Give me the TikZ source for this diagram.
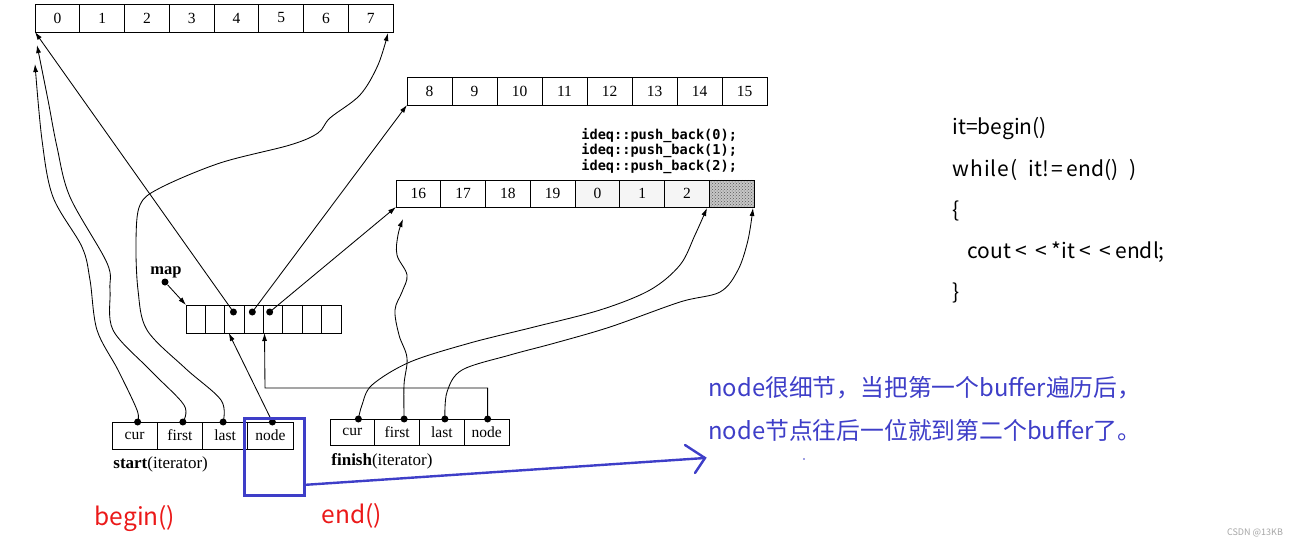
\documentclass[tikz,border=0pt]{standalone}
\usepackage{fontspec}
\setmainfont{Liberation Serif}
\newfontfamily\cjk{Noto Sans CJK SC}
\newfontfamily\monof{DejaVu Sans Mono}
\usetikzlibrary{arrows.meta,patterns}
\definecolor{myblue}{RGB}{62,62,200}
\definecolor{myred}{RGB}{235,25,25}
\newcommand\wlt{\hspace{4.3pt}<\hspace{4.3pt}}
\begin{document}
\begin{tikzpicture}[x=1pt,y=-1pt,line width=0.85pt,
  cellbox/.style={draw,inner sep=0pt,outer sep=0pt,anchor=north west,font=\fontsize{15.5}{15.5}\selectfont},
  ptr/.style={-{Latex[length=8pt,width=5pt]}},
  dotmark/.style={circle,fill,inner sep=0pt,minimum size=7pt},
  codetxt/.style={anchor=west,inner sep=0pt,font=\cjk\fontsize{21}{21}\selectfont},
  bluetxt/.style={anchor=west,inner sep=0pt,text=myblue,font=\cjk\fontsize{23.8}{23.8}\selectfont},
  redtxt/.style={inner sep=0pt,text=myred,font=\cjk\fontsize{24.5}{24.5}\selectfont},
  caption/.style={anchor=west,inner sep=0pt,font=\fontsize{17}{17}\selectfont}]
\useasboundingbox (0,0) rectangle (1300,548);
\fill[white] (0,0) rectangle (1300,548);

% buffer 1
\foreach \i in {0,...,7}
  \node[cellbox,minimum width=44.75pt,minimum height=28pt] (a\i) at ({35+44.75*\i},4) {\i};
% buffer 2
\foreach \i/\l in {0/8,1/9,2/10,3/11,4/12,5/13,6/14,7/15}
  \node[cellbox,minimum width=45pt,minimum height=28pt] (b\i) at ({407+45*\i},77) {\l};
% buffer 3
\foreach \i/\l/\f in {0/16/white,1/17/white,2/18/white,3/19/white,4/0/gray!8,5/1/gray!8,6/2/gray!8,7/{}/gray!45}
  \node[cellbox,fill=\f,minimum width=44.75pt,minimum height=27pt] (c\i) at ({396+44.75*\i},180) {\l};
\fill[pattern=crosshatch dots,pattern color=gray!70!black] (c7.north west) rectangle (c7.south east);
\draw (c7.north west) rectangle (c7.south east);

\node[anchor=west,inner sep=0pt,font=\monof\bfseries\fontsize{13.6}{15.5}\selectfont,align=left] (pb) at (581,151)
  {ideq::push\_back(0);\\ideq::push\_back(1);\\ideq::push\_back(2);};

% map
\foreach \i in {0,...,7}
  \node[cellbox,minimum width=19.375pt,minimum height=28pt] (m\i) at ({186+19.375*\i},305) {};
\node[inner sep=0pt,font=\bfseries\fontsize{16.5}{16.5}\selectfont] (maplbl) at (166,272) {map};
\node[dotmark] (mapdot) at (165,282) {};
\draw[ptr] (mapdot) -- (m0.north west);
\node[dotmark] (d2) at ([xshift=-1pt,yshift=-7pt]m2.north) {};
\node[dotmark] (d3) at ([xshift=-1.5pt,yshift=-7pt]m3.north) {};
\node[dotmark] (d4) at ([xshift=-3.5pt,yshift=-7pt]m4.north) {};
\draw[ptr] (d2.center) -- (a0.south west);
\draw[ptr] (d3.center) -- (b0.south west);
\draw[ptr] (d4.center) -- (c0.south west);

% start iterator
\foreach \i/\l in {0/cur,1/first,2/last,3/node}
  \node[cellbox,minimum width=45.25pt,minimum height=27pt] (s\i) at ({112+45.25*\i},422) {\l};
\node[caption] (startlbl) at (113,464) {\textbf{start}(iterator)};
\node[dotmark] (sd0) at ([xshift=3pt]s0.north) {};
\node[dotmark] (sd1) at ([xshift=3pt]s1.north) {};
\node[dotmark] (sd2) at ([xshift=-2pt]s2.north) {};
\node[dotmark] (sd3) at ([xshift=2pt]s3.north) {};

% finish iterator
\foreach \i/\l in {0/cur,1/first,2/last,3/node}
  \node[cellbox,minimum width=44.75pt,minimum height=26pt] (f\i) at ({330+44.75*\i},419) {\l};
\node[caption] (finishlbl) at (331,461) {\textbf{finish}(iterator)};
\node[dotmark] (fd0) at ([xshift=6pt]f0.north) {};
\node[dotmark] (fd1) at ([xshift=7pt]f1.north) {};
\node[dotmark] (fd2) at ([xshift=3pt]f2.north) {};
\node[dotmark] (fd3) at ([xshift=1pt]f3.north) {};

% free ends
\coordinate (curtip) at (35,64);
\coordinate (firsttip) at (37,45);
\coordinate (lasttip) at (388,33);
\coordinate (fcurtip) at (707,208);
\coordinate (ffirsttip) at (403,219);
\coordinate (flasttip) at (753,208);

% start pointers
\draw[ptr] plot[smooth,tension=0.55] coordinates {(sd0.center) (137,410) (118,370) (97,330) (90,280) (82,247) (53,197) (42,140) (curtip)};
\draw[ptr] plot[smooth,tension=0.55] coordinates {(sd1.center) (184,405) (150,370) (113,330) (110,290) (107,263) (70,197) (57,147) (48,100) (firsttip)};
\draw[ptr] plot[smooth,tension=0.55] coordinates {(sd2.center) (221,400) (185,368) (147,330) (138,290) (136,240) (140,205) (160,188) (220,163) (290,145) (318,133) (330,118) (360,95) (378,65) (lasttip)};
\draw[ptr] (sd3.center) -- ([xshift=4pt]m2.south west);

% finish pointers
\draw[ptr] plot[smooth,tension=0.55] coordinates {(fd0.center) (362,405) (372,385) (410,362) (470,343) (530,328) (600,310) (650,290) (680,265) (695,235) (fcurtip)};
\draw[ptr] plot[smooth,tension=0.6] coordinates {(fd1.center) (404,385) (407,358) (399,335) (395,310) (402,292) (407,275) (397,255) (398,235) (ffirsttip)};
\draw[ptr] plot[smooth,tension=0.55] coordinates {(fd2.center) (447,392) (462,370) (510,355) (555,343) (610,327) (680,302) (720,292) (738,270) (748,240) (flasttip)};
\draw[ptr] (fd3.center) |- (265,388) -- ([xshift=1pt]m3.south east);

% code on the right
\node[codetxt] (l1) at (952,129) {it=begin()};
\node[codetxt] (l2) at (952,170) {w\hspace{1pt}h\hspace{1pt}i\hspace{1pt}l\hspace{1pt}e\hspace{1pt}(\hspace{11pt}it!\hspace{3pt}=\hspace{3pt}end()\hspace{11pt})};
\node[codetxt] (l3) at (952,211) {\{};
\node[codetxt] (l4) at (967,252) {cout\wlt\wlt*it\wlt\wlt endl;};
\node[codetxt] (l5) at (952,293) {\}};

% blue annotation
\node[bluetxt] (n1) at (708,388) {node很细节，当把第一个buffer遍历后，};
\node[bluetxt] (n2) at (708,430) {node节点往后一位就到第二个buffer了。};
\node[draw=myblue,line width=2.6pt,minimum width=60pt,minimum height=77pt,inner sep=0pt,anchor=north west] (bluebox) at (243,417) {};
\coordinate (bluetip) at (705,458);
\draw[myblue,line width=2.4pt,line cap=round] ([yshift=-28pt]bluebox.east) -- (bluetip);
\draw[myblue,line width=2.4pt,line cap=round] (685,445) -- (bluetip) -- (695,473);
\fill[myblue] (804,459) circle (0.9);

% red labels
\node[redtxt] (beginlbl) at (135,519) {begin()};
\node[redtxt] (endlbl) at (352,516) {end()};

% watermark
\node[inner sep=0pt,text=gray!70,font=\cjk\fontsize{9}{9}\selectfont] (wm) at (1255,533) {CSDN @13KB};
\end{tikzpicture}
\end{document}
